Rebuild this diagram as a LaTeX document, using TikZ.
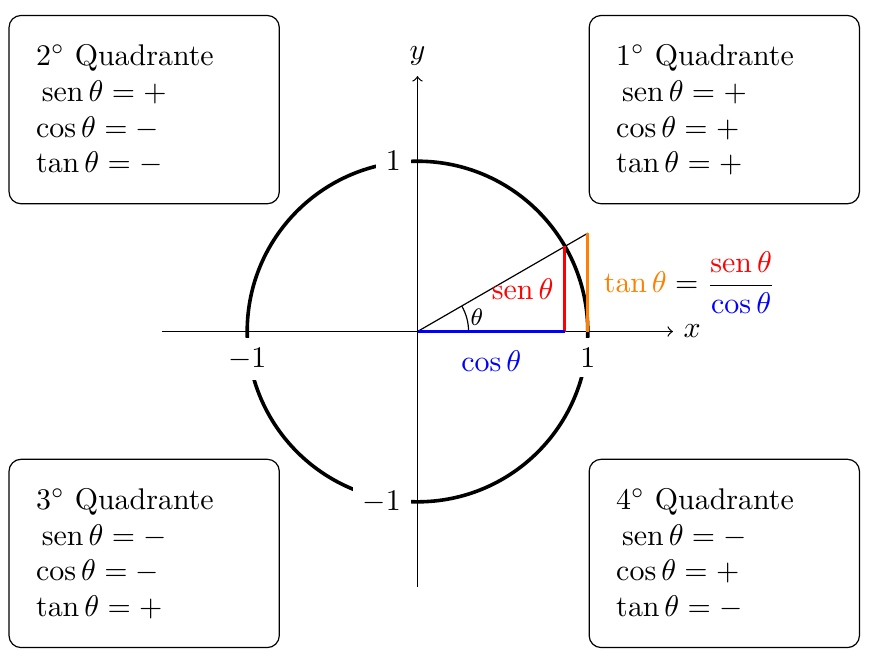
\documentclass[tikz,border=0pt]{standalone}
\usepackage{amsmath}
\newcommand{\sen}{\mathop{\mathrm{sen}}\nolimits}
\newcommand{\senb}{\mkern3.5mu\sen}
\begin{document}
\begin{tikzpicture}[x=2cm,y=2cm,
  qbox/.style={draw, rounded corners, minimum width=3.174cm, minimum height=2.211cm, inner sep=0pt},
  qtext/.style={anchor=base west, inner sep=0pt},
  ticklab/.style={fill=white},
  seg/.style={line width=1pt}]
\useasboundingbox (-2.4515,-1.9348) rectangle (2.6864,1.9466);
% unit circle
\draw[line width=1.2pt] (0,0) circle (1);
\node[ticklab, below=2pt] (xm) at (-1,0) {$-1$};
\node[ticklab, below=2pt] (xp) at (1,0) {$1$};
\node[ticklab, left=2pt] (yp) at (0,1) {$1$};
\node[ticklab, left=2pt] (ym) at (0,-1) {$-1$};
% axes
\coordinate (O) at (0,0);
\coordinate (xa) at (-1.5,0);
\coordinate (xb) at (1.5,0);
\coordinate (ya) at (0,-1.5);
\coordinate (yb) at (0,1.5);
\draw[->] (xa) -- (xb) node[right] (xl) {$x$};
\draw[->] (ya) -- (yb) node[above] (yl) {$y$};
% trig construction
\coordinate (P) at (30:1);
\coordinate (C) at ({cos(30)},0);
\coordinate (U) at (1,0);
\coordinate (T) at (1,{tan(30)});
\draw (O) -- (T);
\draw (0.3,0) arc (0:30:0.3);
\node[font=\footnotesize, inner sep=0pt] (th) at (0.349,0.085) {$\theta$};
\draw[seg, red] (C) -- (P) node[midway, left] (sl) {$\sen\theta$};
\draw[seg, blue] (O) -- (C) node[midway, below=2.7pt] (cl) {$\cos\theta$};
\draw[seg, orange] (U) -- (T) node[midway, right=1.5pt, text=black] (tl)
  {${\color{orange}\tan\theta} = \dfrac{\color{red}\sen\theta}{\color{blue}\cos\theta}$};
% quadrant boxes
\node[qbox] (q1) at (1.8015,1.303) {};
\node[qbox] (q2) at (-1.605,1.303) {};
\node[qbox] (q3) at (-1.605,-1.303) {};
\node[qbox] (q4) at (1.8015,-1.303) {};
% box texts
\node[qtext] (q1a) at ([shift={(0.159,-0.296)}]q1.north west) {$1^\circ$ Quadrante};
\node[qtext] (q1b) at ([shift={(0.159,-0.5068)}]q1.north west) {$\senb\theta = +$};
\node[qtext] (q1c) at ([shift={(0.159,-0.7176)}]q1.north west) {$\cos\theta = +$};
\node[qtext] (q1d) at ([shift={(0.159,-0.9284)}]q1.north west) {$\tan\theta = +$};
\node[qtext] (q2a) at ([shift={(0.159,-0.296)}]q2.north west) {$2^\circ$ Quadrante};
\node[qtext] (q2b) at ([shift={(0.159,-0.5068)}]q2.north west) {$\senb\theta = +$};
\node[qtext] (q2c) at ([shift={(0.159,-0.7176)}]q2.north west) {$\cos\theta = -$};
\node[qtext] (q2d) at ([shift={(0.159,-0.9284)}]q2.north west) {$\tan\theta = -$};
\node[qtext] (q3a) at ([shift={(0.159,-0.296)}]q3.north west) {$3^\circ$ Quadrante};
\node[qtext] (q3b) at ([shift={(0.159,-0.5068)}]q3.north west) {$\senb\theta = -$};
\node[qtext] (q3c) at ([shift={(0.159,-0.7176)}]q3.north west) {$\cos\theta = -$};
\node[qtext] (q3d) at ([shift={(0.159,-0.9284)}]q3.north west) {$\tan\theta = +$};
\node[qtext] (q4a) at ([shift={(0.159,-0.296)}]q4.north west) {$4^\circ$ Quadrante};
\node[qtext] (q4b) at ([shift={(0.159,-0.5068)}]q4.north west) {$\senb\theta = -$};
\node[qtext] (q4c) at ([shift={(0.159,-0.7176)}]q4.north west) {$\cos\theta = +$};
\node[qtext] (q4d) at ([shift={(0.159,-0.9284)}]q4.north west) {$\tan\theta = -$};
\end{tikzpicture}
\end{document}
